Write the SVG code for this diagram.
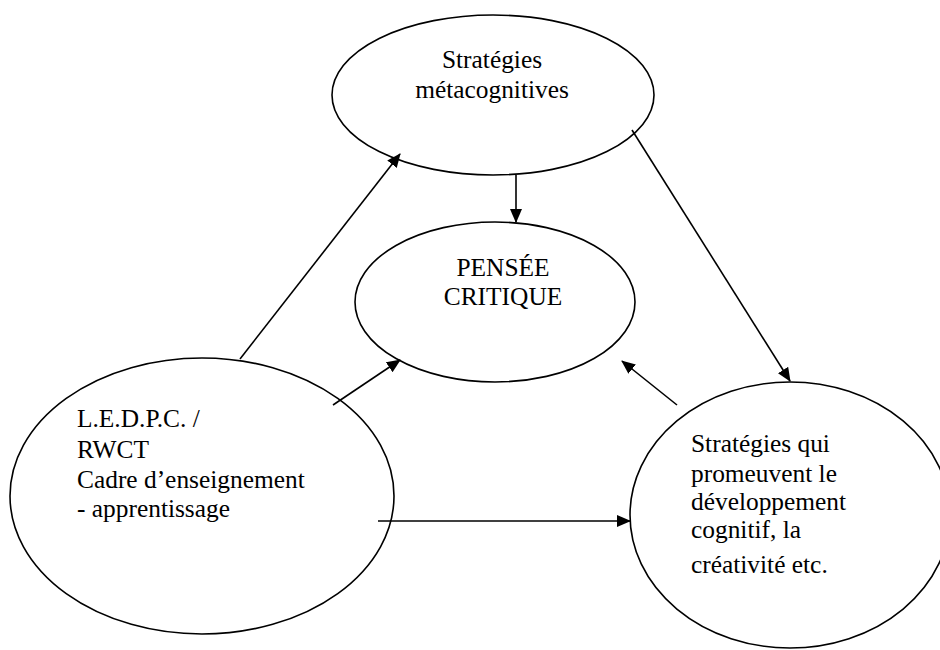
<svg xmlns="http://www.w3.org/2000/svg" width="940" height="650" viewBox="0 0 940 650">
<style>
.n{fill:#fff;stroke:#000;stroke-width:1.6}
.t{font-family:'Liberation Serif','Times New Roman',Times,serif;font-size:25.4px;fill:#000}
.c{text-anchor:middle}
.e{stroke:#000;stroke-width:1.6;fill:none;marker-end:url(#ah)}
</style>
<defs>
<marker id="ah" markerWidth="14" markerHeight="12" refX="13" refY="6" orient="auto" markerUnits="userSpaceOnUse">
<path d="M0,0 L14,6 L0,12 Z" fill="#000"/>
</marker>
</defs>
<rect width="940" height="650" fill="#fff"/>
<g id="n-meta">
<ellipse class="n" cx="493" cy="95" rx="161" ry="80"/>
<text class="t c" x="492" y="68">Stratégies</text>
<text class="t c" x="492" y="98">métacognitives</text>
</g>
<g id="n-pensee">
<ellipse class="n" cx="495" cy="302" rx="140" ry="80"/>
<text class="t c" x="503" y="276">PENSÉE</text>
<text class="t c" x="503" y="305">CRITIQUE</text>
</g>
<g id="n-ledpc">
<ellipse class="n" cx="202" cy="496" rx="192" ry="138"/>
<text class="t" x="77" y="427">L.E.D.P.C. /</text>
<text class="t" x="77" y="458">RWCT</text>
<text class="t" x="77" y="488">Cadre d’enseignement</text>
<text class="t" x="77" y="517">- apprentissage</text>
</g>
<g id="n-strat">
<ellipse class="n" cx="790" cy="515" rx="160" ry="133"/>
<text class="t" x="691" y="452">Stratégies qui</text>
<text class="t" x="691" y="482">promeuvent le</text>
<text class="t" x="691" y="510">développement</text>
<text class="t" x="691" y="538">cognitif, la</text>
<text class="t" x="691" y="573">créativité etc.</text>
</g>
<g id="connectors">
<line class="e" x1="240" y1="359" x2="400" y2="154"/>
<line class="e" x1="516" y1="175" x2="516" y2="222"/>
<line class="e" x1="632" y1="130" x2="790" y2="381"/>
<line class="e" x1="333" y1="405" x2="400" y2="360"/>
<line class="e" x1="677" y1="405" x2="622" y2="361"/>
<line class="e" x1="378" y1="521" x2="630" y2="521"/>
</g>
</svg>
